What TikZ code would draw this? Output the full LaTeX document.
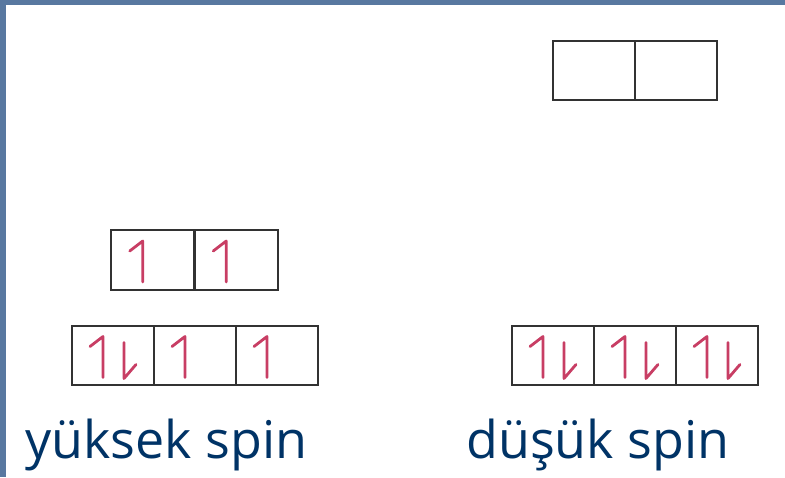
\documentclass[tikz,border=0pt]{standalone}
\usepackage{fontspec}
\setmainfont{Open Sans}
\definecolor{frameblue}{RGB}{88,120,160}
\definecolor{boxline}{RGB}{50,50,50}
\definecolor{spinred}{RGB}{200,62,100}
\definecolor{labelblue}{RGB}{0,51,102}
\begin{document}
\begin{tikzpicture}[x=1pt,y=-1pt,
  cell/.style={draw=boxline,line width=2.3pt,minimum width=82pt,minimum height=59pt,inner sep=0pt,outer sep=0pt},
  spin/.style={draw=spinred,line width=2.8pt,line cap=round,line join=round},
  lbl/.style={anchor=base west,inner sep=0pt,text=labelblue,font=\fontsize{52}{60}\selectfont},
  up/.pic={\path[spin] (-10,22) -- (-10,-19) -- (-23,-9);},
  updn/.pic={\path[spin] (-10,22) -- (-10,-19) -- (-23,-9);
             \path[spin] (11,-13) -- (11,23) -- (23,9);}
]
\useasboundingbox (0,0) rectangle (785,477);
\fill[white] (0,0) rectangle (785,477);
\fill[frameblue] (0,0) rectangle (6,477);
\fill[frameblue] (0,0) rectangle (785,5);

% top right (empty)
\node[cell] (t1) at (594,70.5) {};
\node[cell] (t2) at (676,70.5) {};

% middle left
\node[cell,minimum width=83.5pt,minimum height=60pt] (m1) at (152.75,260) {};
\node[cell,minimum width=83.5pt,minimum height=60pt] (m2) at (236.25,260) {};
\pic at (m1) {up};
\pic at (m2) {up};

% bottom left
\node[cell] (a1) at (113,355.5) {};
\node[cell] (a2) at (195,355.5) {};
\node[cell] (a3) at (277,355.5) {};
\pic at (a1) {updn};
\pic at (a2) {up};
\pic at (a3) {up};

% bottom right
\node[cell] (b1) at (553,355.5) {};
\node[cell] (b2) at (635,355.5) {};
\node[cell] (b3) at (717,355.5) {};
\pic at (b1) {updn};
\pic at (b2) {updn};
\pic at (b3) {updn};

\node[lbl] (hs) at (25,458) {yüksek spin};
\node[lbl] (ls) at (466,458) {düşük spin};
\end{tikzpicture}
\end{document}
